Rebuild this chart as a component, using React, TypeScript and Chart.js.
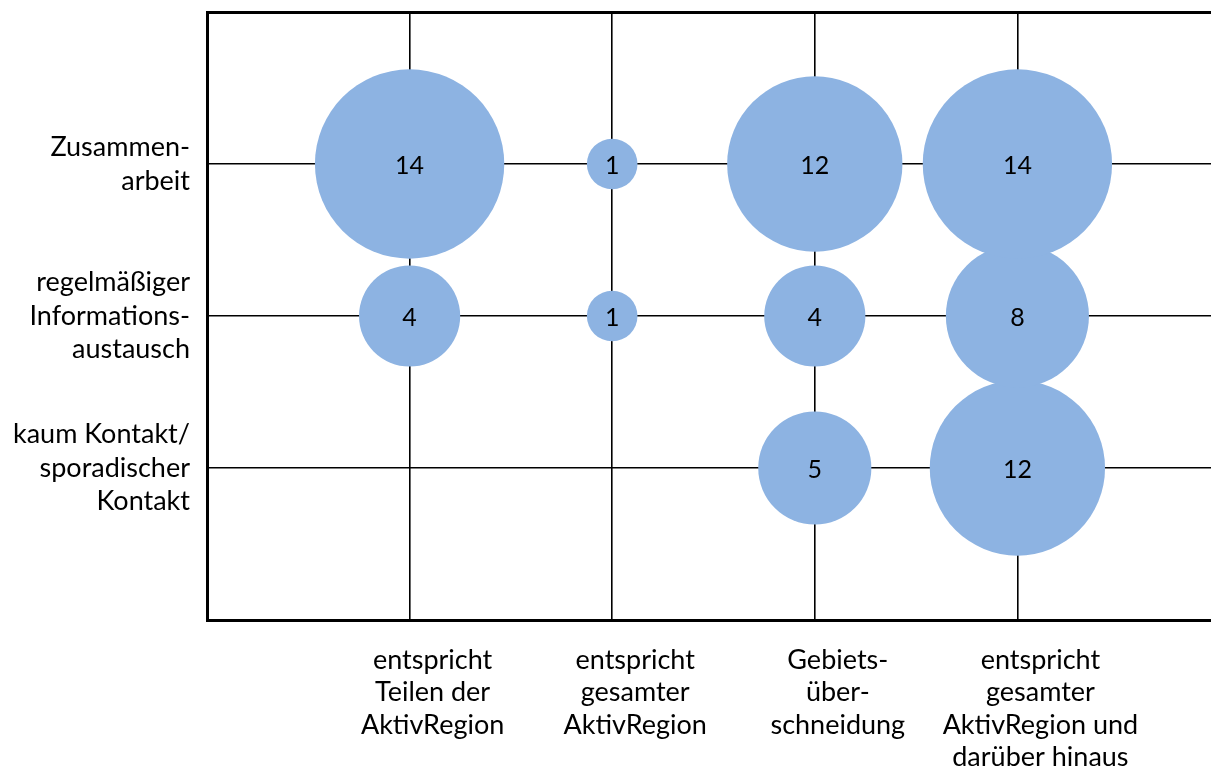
import React, { useEffect, useRef } from "react";
import { Chart, registerables } from "chart.js";

Chart.register(...registerables);

const xCategories: string[][] = [
  ["entspricht", "Teilen der", "AktivRegion"],
  ["entspricht", "gesamter", "AktivRegion"],
  ["Gebiets-", "über-", "schneidung"],
  ["entspricht", "gesamter", "AktivRegion und", "darüber hinaus"],
];

const yCategories: string[][] = [
  ["kaum Kontakt/", "sporadischer", "Kontakt"],
  ["regelmäßiger", "Informations-", "austausch"],
  ["Zusammen-", "arbeit"],
];

// values per x category, one array per y row (bottom to top)
const kaumKontakt: (number | null)[] = [null, null, 5, 12];
const informationsaustausch: (number | null)[] = [4, 1, 4, 8];
const zusammenarbeit: (number | null)[] = [14, 1, 12, 14];

const rows = [kaumKontakt, informationsaustausch, zusammenarbeit];

const BUBBLE_COLOR = "#8DB3E2";
const FONT = "Lato, 'Open Sans', sans-serif";
const RADIUS_SCALE = 25.3;

export default function App() {
  const canvasRef = useRef<HTMLCanvasElement | null>(null);

  useEffect(() => {
    const canvas = canvasRef.current;
    if (!canvas) return;

    const points: { x: number; y: number; r: number; v: number }[] = [];
    rows.forEach((row, ri) => {
      row.forEach((v, xi) => {
        if (v != null) {
          points.push({ x: xi + 1, y: ri + 1, r: RADIUS_SCALE * Math.sqrt(v), v });
        }
      });
    });

    const labelPlugin = {
      id: "bubbleLabels",
      afterDatasetsDraw(chart: any) {
        const ctx = chart.ctx;
        const meta = chart.getDatasetMeta(0);
        ctx.save();
        ctx.font = `25px ${FONT}`;
        ctx.fillStyle = "#000";
        ctx.textAlign = "center";
        ctx.textBaseline = "middle";
        meta.data.forEach((el: any, i: number) => {
          const p = points[i];
          ctx.fillText(String(p.v), el.x, el.y + 2);
        });
        ctx.restore();
      },
    };

    const chart = new Chart(canvas, {
      type: "bubble",
      data: {
        datasets: [
          {
            data: points,
            backgroundColor: BUBBLE_COLOR,
            borderWidth: 0,
            hoverRadius: 0,
            hoverBorderWidth: 0,
            clip: false,
          } as any,
        ],
      },
      plugins: [labelPlugin],
      options: {
        animation: false,
        responsive: false,
        devicePixelRatio: 1,
        events: [],
        layout: { autoPadding: false, padding: { top: 12, right: 20, left: 0, bottom: 0 } },
        plugins: {
          legend: { display: false },
          tooltip: { enabled: false },
        },
        scales: {
          x: {
            type: "linear",
            min: 0,
            max: 5,
            afterBuildTicks: (scale: any) => {
              scale.ticks = [0, 1, 2, 3, 4, 5].map((v) => ({ value: v }));
            },
            afterFit: (scale: any) => {
              scale.height = 154;
              scale.paddingLeft = 0;
              scale.paddingRight = 0;
            },
            ticks: {
              autoSkip: false,
              maxRotation: 0,
              minRotation: 0,
              padding: 24,
              labelOffset: 23,
              color: "#000",
              font: { family: FONT, size: 27, lineHeight: 1.2 },
              callback: (v: any) => xCategories[Number(v) - 1] ?? "",
            },
            grid: {
              color: "#000",
              drawTicks: false,
              lineWidth: (ctx: any) => {
                const v = ctx.tick?.value;
                if (v === 0) return 0;
                if (v === 5) return 3;
                return 1.6;
              },
            },
            border: { display: true, color: "#000", width: 3 },
          },
          y: {
            type: "linear",
            min: 0,
            max: 4,
            afterBuildTicks: (scale: any) => {
              scale.ticks = [0, 1, 2, 3, 4].map((v) => ({ value: v }));
            },
            afterFit: (scale: any) => {
              scale.width = 207;
              scale.paddingTop = 0;
              scale.paddingBottom = 0;
            },
            ticks: {
              autoSkip: false,
              padding: 17,
              color: "#000",
              font: { family: FONT, size: 27, lineHeight: 1.25 },
              callback: (v: any) => yCategories[Number(v) - 1] ?? "",
            },
            grid: {
              color: "#000",
              drawTicks: false,
              lineWidth: (ctx: any) => {
                const v = ctx.tick?.value;
                if (v === 0) return 0;
                if (v === 4) return 3;
                return 1.6;
              },
            },
            border: { display: true, color: "#000", width: 3 },
          },
        },
      } as any,
    });

    return () => chart.destroy();
  }, []);

  return (
    <div
      style={{
        position: "fixed",
        left: 0,
        top: 0,
        width: 1211,
        height: 774,
        overflow: "hidden",
        background: "#fff",
      }}
    >
      <canvas ref={canvasRef} width={1240} height={774} style={{ display: "block" }} />
    </div>
  );
}
